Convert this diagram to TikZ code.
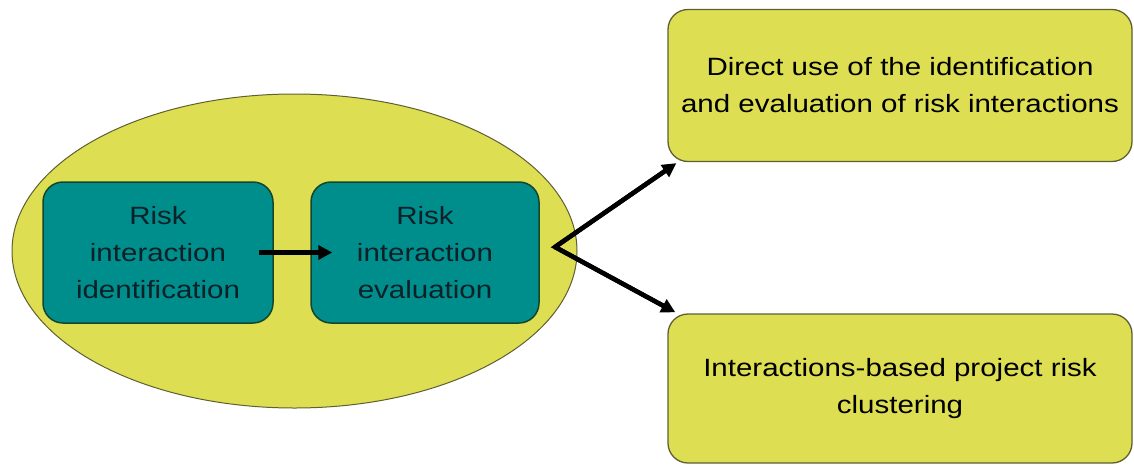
\documentclass[tikz,border=0pt]{standalone}
\usepackage{fontspec}
\setmainfont[FakeStretch=1.18]{Liberation Sans}
\usetikzlibrary{shapes.geometric,arrows.meta}
\definecolor{ylw}{RGB}{221,222,82}
\definecolor{tealbox}{RGB}{0,142,140}
\definecolor{tealedge}{RGB}{20,70,45}
\definecolor{ylwedge}{RGB}{95,95,50}
\definecolor{txtdark}{RGB}{12,32,40}
\tikzset{
  bigtext/.style={font=\fontsize{25}{37}\selectfont},
  innerbox/.style={draw=tealedge, line width=1.5pt, fill=tealbox, rounded corners=20pt,
    minimum width=230pt, minimum height=141pt, align=center, text=txtdark, bigtext, inner sep=0pt},
  outbox/.style={draw=ylwedge, line width=1.3pt, fill=ylw, rounded corners=20pt,
    minimum width=464pt, minimum height=152pt, align=center, text=black, bigtext, inner sep=0pt},
  arr/.style={line width=4.5pt, -{Triangle[length=14pt,width=14pt]}}
}
\begin{document}
\begin{tikzpicture}[x=1pt,y=-1pt]
\useasboundingbox (0,0) rectangle (1134,466);
\node[ellipse, draw=ylwedge, line width=1pt, fill=ylw, minimum width=565pt, minimum height=314pt, inner sep=0pt] (ell) at (294.5,251) {};
\node[innerbox] (ident) at (158,252.5) {Risk\\interaction\\identification};
\node[innerbox, minimum width=228pt] (eval) at (425,252.5) {Risk\\interaction\\evaluation};
\node[outbox] (direct) at (900,85.5) {Direct use of the identification\\and evaluation of risk interactions};
\node[outbox, minimum height=149pt] (clust) at (900,388.5) {Interactions-based project risk\\clustering};
\coordinate (v) at (555,247);
\coordinate (tipA) at ([shift={(9pt,-1pt)}]direct.south west);
\coordinate (tipB) at ([shift={(8pt,1pt)}]clust.north west);
\draw[arr, shorten <=-15pt, shorten >=-22pt] (ident.east) -- (eval.west);
\draw[line width=4.5pt, line join=miter, shorten <=12pt, shorten >=12pt] (tipA) -- (v) -- (tipB);
\draw[arr] (v) -- (tipA);
\draw[arr] (v) -- (tipB);
\end{tikzpicture}
\end{document}
